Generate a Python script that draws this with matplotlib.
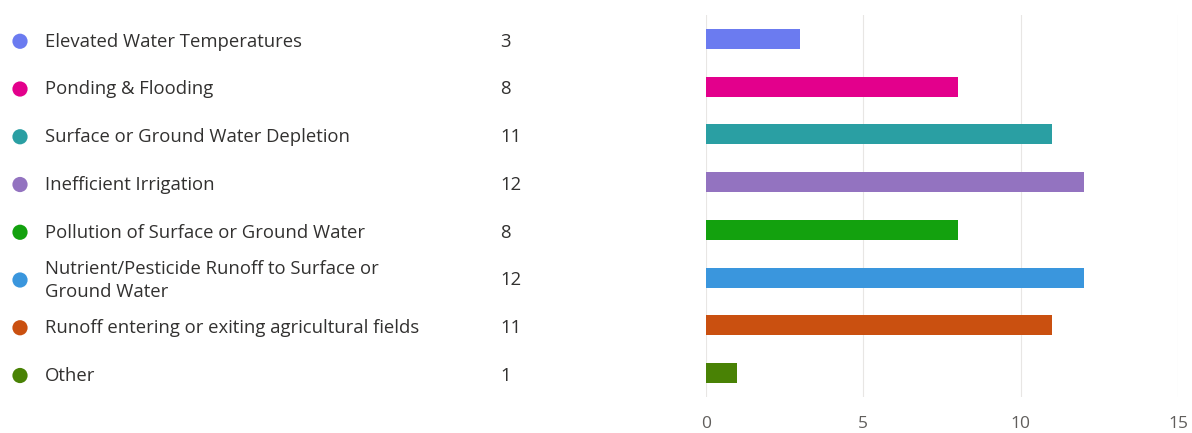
import matplotlib.pyplot as plt

labels = [
    'Elevated Water Temperatures',
    'Ponding & Flooding',
    'Surface or Ground Water Depletion',
    'Inefficient Irrigation',
    'Pollution of Surface or Ground Water',
    'Nutrient/Pesticide Runoff to Surface or\nGround Water',
    'Runoff entering or exiting agricultural fields',
    'Other',
]
counts = [3, 8, 11, 12, 8, 12, 11, 1]
colors = ['#6B7BF0', '#E3008C', '#2A9FA3', '#9373C0',
          '#13A10E', '#3A96DD', '#CA5010', '#498205']
x_ticks = [0, 5, 10, 15]

plt.rcParams['font.family'] = ['Open Sans', 'DejaVu Sans']

fig = plt.figure(figsize=(11.92, 4.33), dpi=100)
bottom = 1 - 397 / 433
top = 1 - 15 / 433

# bar chart on the right
ax = fig.add_axes([706 / 1192, bottom, (1178 - 706) / 1192, top - bottom])
rows = list(range(len(labels)))
ax.barh(rows, counts, height=0.42, color=colors, zorder=3)
ax.set_xlim(0, 15)
ax.set_ylim(len(labels) - 0.5, -0.5)
ax.set_xticks(x_ticks)
ax.set_yticks([])
ax.grid(axis='x', color='#E8E6E4', linewidth=0.8, zorder=0)
for s in ax.spines.values():
    s.set_visible(False)
ax.tick_params(axis='x', length=0, pad=14, labelsize=12.5, labelcolor='#605E5C')

# legend list on the left
ax_leg = fig.add_axes([0, bottom, 656 / 1192, top - bottom], sharey=ax)
ax_leg.set_xlim(0, 656)
ax_leg.axis('off')
ax_leg.scatter([20] * len(rows), [r + 0.05 for r in rows], s=120, c=colors, linewidths=0)
for i, (lab, c) in enumerate(zip(labels, counts)):
    ax_leg.text(45, i + 0.06, lab, va='center', ha='left', fontsize=13.3,
                color='#323130', linespacing=1.35)
    ax_leg.text(500, i + 0.06, str(c), va='center', ha='left', fontsize=13.3,
                color='#323130')

plt.savefig('out.png', dpi=100)
